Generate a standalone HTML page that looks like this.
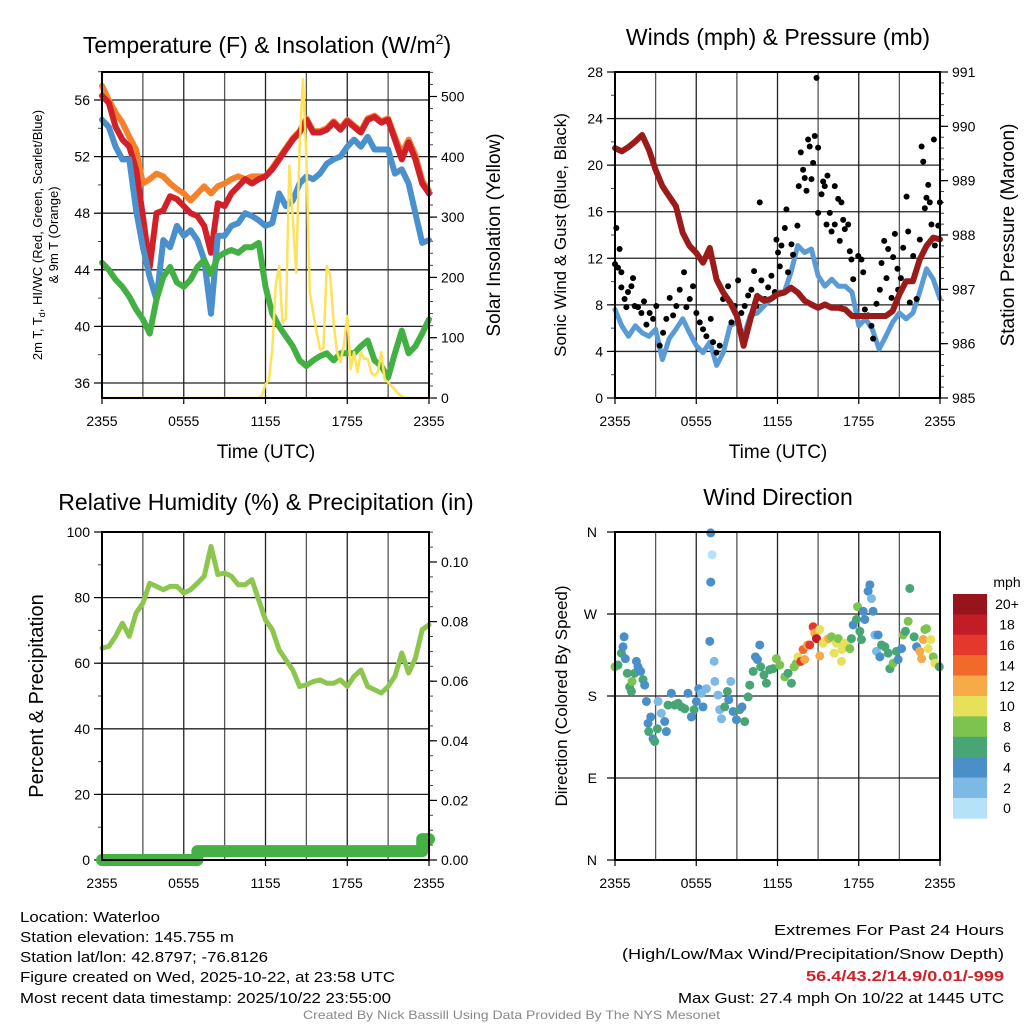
<!DOCTYPE html>
<html><head><meta charset="utf-8"><style>
html,body{margin:0;padding:0;background:#fff;}
svg{display:block;font-family:"Liberation Sans",Arial,sans-serif;}
</style></head><body>
<svg id="fig" width="1024" height="1024" viewBox="0 0 1024 1024" xmlns="http://www.w3.org/2000/svg">
<g id="texts">
<text x="267" y="53" font-size="23" text-anchor="middle">Temperature (F) &amp; Insolation (W/m<tspan dy="-9" font-size="14">2</tspan><tspan dy="9">)</tspan></text>
<text x="778" y="45" font-size="23" text-anchor="middle">Winds (mph) &amp; Pressure (mb)</text>
<text x="266" y="510" font-size="23" text-anchor="middle">Relative Humidity (%) &amp; Precipitation (in)</text>
<text x="778" y="505" font-size="23" text-anchor="middle">Wind Direction</text>
<text x="266" y="458" font-size="19" text-anchor="middle">Time (UTC)</text>
<text x="778" y="458" font-size="19" text-anchor="middle">Time (UTC)</text>
<text transform="translate(42,235) rotate(-90)" font-size="13" text-anchor="middle">2m T, T<tspan dy="3" font-size="9">d</tspan><tspan dy="-3">, HI/WC (Red, Green, Scarlet/Blue)</tspan></text>
<text transform="translate(58,235) rotate(-90)" font-size="13" text-anchor="middle">&amp; 9m T (Orange)</text>
<text transform="translate(500,235) rotate(-90)" font-size="19" text-anchor="middle">Solar Insolation (Yellow)</text>
<text transform="translate(566,235) rotate(-90)" font-size="17" text-anchor="middle">Sonic Wind &amp; Gust (Blue, Black)</text>
<text transform="translate(1014,235) rotate(-90)" font-size="19" text-anchor="middle">Station Pressure (Maroon)</text>
<text transform="translate(43,696) rotate(-90)" font-size="20" text-anchor="middle">Percent &amp; Precipitation</text>
<text transform="translate(567,696) rotate(-90)" font-size="17" text-anchor="middle">Direction (Colored By Speed)</text>
<g font-size="15">
<text x="20" y="922" textLength="140" lengthAdjust="spacingAndGlyphs">Location: Waterloo</text>
<text x="20" y="942" textLength="214" lengthAdjust="spacingAndGlyphs">Station elevation: 145.755 m</text>
<text x="20" y="962" textLength="248" lengthAdjust="spacingAndGlyphs">Station lat/lon: 42.8797; -76.8126</text>
<text x="20" y="982" textLength="375" lengthAdjust="spacingAndGlyphs">Figure created on Wed, 2025-10-22, at 23:58 UTC</text>
<text x="20" y="1003" textLength="371" lengthAdjust="spacingAndGlyphs">Most recent data timestamp: 2025/10/22 23:55:00</text>
</g>
<g font-size="15">
<text x="774" y="935" textLength="230" lengthAdjust="spacingAndGlyphs">Extremes For Past 24 Hours</text>
<text x="622" y="959" textLength="382" lengthAdjust="spacingAndGlyphs">(High/Low/Max Wind/Precipitation/Snow Depth)</text>
<text x="806" y="981" textLength="198" lengthAdjust="spacingAndGlyphs" font-weight="bold" fill="#d0202a">56.4/43.2/14.9/0.01/-999</text>
<text x="678" y="1003" textLength="326" lengthAdjust="spacingAndGlyphs">Max Gust: 27.4 mph On 10/22 at 1445 UTC</text>
</g>
<text x="303" y="1019" textLength="417" lengthAdjust="spacingAndGlyphs" font-size="12" fill="#888">Created By Nick Bassill Using Data Provided By The NYS Mesonet</text>
</g>
</svg>
<script>
// ---------- data ----------
const timeTickLabels = ["2355","0555","1155","1755","2355"];
const tempTickLabels = [36,40,44,48,52,56];
const solarTickLabels = [0,100,200,300,400,500];
const windTickLabels = [0,4,8,12,16,20,24,28];
const pressTickLabels = [985,986,987,988,989,990,991];
const rhTickLabels = [0,20,40,60,80,100];
const precipTickLabels = [0.00,0.02,0.04,0.06,0.08,0.10];
const dirTickLabels = ["N","E","S","W","N"];
const cbLabels = ["0","2","4","6","8","10","12","14","16","18","20+"];
const cbColors = ["#b5e2f7","#7cb9e5","#4a8fc8","#48a676","#7dc34f","#e6e05a","#f7aa48","#f26a2b","#e3382b","#c21d27","#98141c"];

const tempRed = [56.3,55.8,54.1,53.2,52.7,51.1,47.8,44.2,48.0,48.2,49.2,49.0,48.5,48.0,47.8,47.1,45.2,48.7,48.5,49.4,49.9,50.4,50.1,50.4,50.6,51.1,51.8,52.5,53.2,53.7,54.6,53.7,53.7,53.9,54.4,53.9,54.5,54.1,53.7,54.6,54.8,54.4,54.6,53.2,51.8,53.0,51.8,50.1,49.4];
const tempOrange = [57.0,56.0,55.1,54.4,53.4,52.5,50.1,50.4,50.8,50.6,50.1,49.7,49.4,48.9,49.4,49.9,49.4,49.9,50.1,50.4,50.6,50.4,50.6,50.6,50.6,51.2,51.9,52.6,53.3,53.8,54.7,53.8,53.8,54.0,54.5,54.0,54.6,54.2,53.8,54.7,54.9,54.5,54.7,53.4,52.2,53.2,52.1,50.3,49.6];
const tempBlue = [54.6,54.1,52.7,51.8,51.8,48.2,45.6,43.5,41.9,46.1,45.6,47.1,46.4,46.8,46.1,44.7,40.9,46.4,46.4,47.1,47.3,48.0,47.8,47.5,47.1,47.3,49.4,48.5,48.9,50.1,50.6,50.4,50.8,51.5,51.8,52.0,52.7,53.2,52.7,53.4,52.5,52.5,52.5,50.8,51.1,50.1,48.0,45.9,46.1];
const tempGreen = [44.5,44.0,43.3,42.8,42.1,41.2,40.5,39.5,41.9,43.5,44.2,43.1,42.8,43.3,44.2,44.7,43.7,44.9,45.2,45.4,45.2,45.6,45.6,45.9,42.8,40.9,40.0,39.3,38.6,37.6,37.2,37.6,37.9,38.1,37.6,38.1,38.1,38.1,38.6,39.0,37.6,37.2,36.4,38.1,39.7,38.1,38.6,39.5,40.5];
const solar = [0,0,0,0,0,0,0,0,0,0,0,0,0,0,0,0,0,0,0,0,0,0,0,0,0,0,0,0,0,0,0,0,0,0,0,0,0,0,0,0,0,0,0,0,0,0,0,
4,23,29,81,186,219,125,131,385,297,208,418,529,396,175,142,109,81,81,219,203,125,76,59,87,136,48,76,43,76,65,65,43,37,43,76,31,26,20,14,7,3,
0,0,0,0,0,0,0,0];
const windSpeed = [7.6,6.2,5.3,6.2,5.6,5.3,5.9,3.3,5.1,5.9,6.8,5.6,4.5,3.9,4.8,2.8,3.9,6.2,6.5,5.3,7.1,7.3,7.9,8.5,9.1,9.1,10.8,13.1,12.5,12.8,10.5,9.6,10.2,9.6,9.6,9.1,6.2,6.8,5.9,4.2,5.3,6.5,7.3,6.8,7.3,9.1,11.1,10.2,8.5];
const pressure = [989.60,989.54,989.62,989.72,989.84,989.57,989.20,988.90,988.71,988.53,988.04,987.80,987.67,987.49,987.76,987.18,986.94,986.76,986.51,985.96,986.45,986.88,986.79,986.82,986.91,986.94,987.03,986.94,986.79,986.72,986.66,986.72,986.66,986.66,986.63,986.51,986.51,986.51,986.51,986.51,986.51,986.60,986.91,987.15,987.15,987.55,987.80,987.95,987.92];
const gustHours = [0.10,0.0,0.22,0.34,0.47,0.47,0.71,0.84,0.96,1.21,1.33,1.45,1.70,1.95,2.14,2.32,2.56,2.81,3.05,3.30,3.55,3.79,4.04,4.29,4.53,4.78,5.10,5.27,5.52,5.76,6.01,6.26,6.50,6.75,7.07,7.24,7.49,7.73,7.98,8.35,8.60,8.84,9.09,9.33,9.58,9.83,10.07,10.27,10.44,10.69,10.81,11.06,11.31,11.55,11.80,11.92,12.04,12.17,12.29,12.54,12.66,12.78,13.03,13.15,13.47,13.57,13.72,13.89,14.01,14.14,14.26,14.38,14.51,14.63,14.75,14.88,15.0,15.0,15.25,15.37,15.49,15.69,15.62,15.86,15.99,16.23,16.23,16.48,16.60,16.72,16.85,16.97,17.22,17.34,17.46,17.59,17.96,18.20,18.33,18.45,18.69,18.94,19.06,19.31,19.56,19.68,19.88,20.05,20.17,20.42,20.54,20.67,20.86,20.91,21.11,21.28,21.53,21.65,21.77,22.02,22.27,22.51,22.64,22.76,22.88,23.0,23.13,23.25,23.37,23.55,23.62,23.87,23.99];
const gustVals = [14.6,11.5,11.2,12.8,10.8,9.5,8.5,7.8,9.1,9.6,10.3,7.9,7.8,7.3,8.3,6.3,7.3,6.8,7.9,4.5,5.6,6.8,8.6,7.1,7.9,9.3,10.8,7.8,8.5,9.6,7.3,6.5,5.9,5.3,6.8,4.8,3.9,4.5,8.5,9.6,6.5,7.9,10.1,7.3,7.9,8.8,9.3,10.9,7.9,16.8,10.1,8.5,9.5,10.5,9.1,13.6,12.5,11.3,13.1,14.6,16.2,10.8,13.2,12.3,14.8,18.2,21.1,19.6,18.9,17.8,22.2,21.6,18.8,20.2,22.5,27.5,21.5,15.9,17.5,18.6,18.2,19.1,14.9,15.9,14.3,18.2,14.9,17.1,13.5,16.8,15.3,14.5,14.9,12.6,11.9,10.2,12.2,11.9,10.8,7.6,7.1,6.2,5.1,8.1,9.3,11.6,13.5,10.3,12.8,8.6,12.1,14.1,11.1,9.3,10.3,12.9,17.3,14.3,8.2,12.2,8.5,13.6,21.6,20.3,16.3,17.2,18.3,16.8,14.9,22.2,13.1,14.8,16.8];
const rh = [64.6,65.1,68.2,72.2,68.2,75.3,78.3,84.4,83.4,82.4,83.4,83.4,81.4,82.4,84.4,86.5,95.6,87.0,87.5,86.5,83.9,83.9,85.5,79.3,73.2,70.2,64.1,61.0,57.9,52.9,53.4,54.4,54.9,53.9,53.9,54.9,52.9,56.0,57.9,52.9,51.9,50.9,52.9,56.0,63.1,57.0,61.5,70.2,71.7];
const precip = [0,0,0,0,0,0,0,0,0,0,0,0,0,0,0,0.003,0.003,0.003,0.003,0.003,0.003,0.003,0.003,0.003,0.003,0.003,0.003,0.003,0.003,0.003,0.003,0.003,0.003,0.003,0.003,0.003,0.003,0.003,0.003,0.003,0.003,0.003,0.003,0.003,0.003,0.003,0.003,0.003,0.007];
const dirHours = [0.0,0.22,0.47,0.67,0.59,0.76,0.91,1.08,1.21,1.26,1.45,1.58,1.70,1.90,2.07,2.19,2.32,2.44,2.64,2.49,2.81,2.93,3.18,3.13,3.42,3.67,3.79,3.92,4.16,4.41,4.66,4.90,5.15,5.39,5.64,5.84,6.01,6.18,6.38,6.50,6.75,7.0,7.07,7.17,7.07,7.32,7.37,7.61,7.73,7.86,8.10,8.30,8.40,8.55,8.72,8.97,9.21,9.38,9.58,9.83,9.95,10.2,10.37,10.52,10.69,10.76,11.0,11.18,11.43,11.67,11.92,12.17,12.54,12.78,13.03,13.23,13.4,13.52,13.72,13.89,14.01,14.21,14.38,14.63,14.75,14.88,15.12,15.12,15.37,15.62,15.79,15.99,16.18,16.35,16.48,16.72,16.77,16.97,17.17,17.34,17.46,17.59,17.83,17.91,18.08,18.2,18.33,18.45,18.69,18.82,18.94,19.06,19.19,19.31,19.43,19.56,19.68,19.93,20.17,20.3,20.54,20.79,20.91,21.16,21.28,21.45,21.65,21.77,22.09,22.27,22.51,22.64,22.76,22.88,23.0,23.13,23.32,23.5,23.62,23.87,23.95];
const dirDegs = [212,214,227,245,234,221,205,190,185,196,205,218,212,207,198,192,174,150,157,141,133,130,174,144,161,152,141,170,183,170,172,168,166,183,157,165,174,188,183,168,188,240,359,335,305,218,196,181,165,155,168,185,176,196,163,154,165,168,152,179,192,207,223,220,236,212,203,194,209,210,221,214,201,205,194,212,216,223,218,231,220,236,236,256,249,243,253,224,238,242,243,245,227,238,243,218,231,238,236,232,243,258,264,278,251,242,273,264,295,302,287,273,247,229,247,223,236,234,227,210,216,229,220,232,247,251,262,298,245,234,229,221,242,253,254,232,242,223,216,214,212];
const dirSpeeds = [8,6,6,4,4,4,6,6,6,8,6,4,4,4,6,4,4,4,4,6,4,6,2,6,2,4,4,6,4,6,6,6,6,4,4,6,4,4,2,4,2,4,4,0,4,2,2,2,2,2,6,6,4,2,4,4,6,4,6,6,6,6,4,4,4,6,6,6,6,6,8,8,8,6,6,8,8,10,16,14,12,12,16,16,12,18,10,12,10,10,12,8,10,10,8,10,10,10,10,8,6,4,6,8,6,6,4,4,4,4,2,4,2,2,4,4,6,6,6,6,8,6,4,4,8,6,8,6,6,4,12,12,12,8,8,10,10,8,10,10,6];

// ---------- drawing ----------
const NS = "http://www.w3.org/2000/svg";
const svg = document.getElementById("fig");
function mk(tag, attrs, parent){
  const e = document.createElementNS(NS, tag);
  for (const k in attrs) e.setAttribute(k, attrs[k]);
  (parent||svg).appendChild(e);
  return e;
}
const P = {
  tl:{x0:102,x1:429,y0:72,y1:398},
  tr:{x0:615,x1:940,y0:72,y1:398},
  bl:{x0:102,x1:429,y0:532,y1:860},
  br:{x0:615,x1:940,y0:532,y1:860}
};
function xs(p){ return h => p.x0 + (h/24)*(p.x1-p.x0); }
function lin(d0,d1,r0,r1){ return v => r0 + (v-d0)/(d1-d0)*(r1-r0); }

const yTemp = lin(56,36,100,383);
const ySolar = lin(0,500,398,96.5);
const yWind = lin(0,28,398,72);
const yPress = lin(985,991,398,72);
const yRH = lin(0,100,860,532);
const yPrecip = lin(0,0.10,860,562);
const yDir = lin(0,360,860,532);

function frame(p, name, hLines){
  const g = mk("g",{});
  
  
  const X = xs(p);
  for (let h=3; h<24; h+=3){
    const l = mk("line",{x1:X(h),x2:X(h),y1:p.y0,y2:p.y1,stroke:(h%6==0)?"#222":"#555","stroke-width":1.3},g);
    
    
  }
  hLines.forEach(y=>{
    const l = mk("line",{x1:p.x0,x2:p.x1,y1:y,y2:y,stroke:"#222","stroke-width":1.3},g);
    
    
  });
  timeTickLabels.forEach((t,i)=>{
    const x = X(i*6);
    const tx = mk("text",{x:x,y:p.y1+28,"font-size":14,"text-anchor":"middle"},g);
    tx.textContent = t;
    
    
    mk("line",{x1:x,x2:x,y1:p.y1,y2:p.y1+6,stroke:"#000","stroke-width":1.2},g);
  });
  return g;
}
function border(p,g){
  const r = mk("rect",{x:p.x0,y:p.y0,width:p.x1-p.x0,height:p.y1-p.y0,fill:"none",stroke:"#000","stroke-width":2},g);
  
  
}
function axisTicks(g, side, p, scale, major, minorStep, lo, hi, fmt, name){
  const x = side==="left" ? p.x0 : p.x1;
  const dir = side==="left" ? -1 : 1;
  for (let v=lo; v<=hi+1e-9; v+=minorStep){
    const y = scale(v);
    if (y < p.y0-0.5 || y > p.y1+0.5) continue;
    mk("line",{x1:x,x2:x+dir*4,y1:y,y2:y,stroke:"#444","stroke-width":1},g);
  }
  major.forEach(v=>{
    const y = scale(v);
    mk("line",{x1:x,x2:x+dir*8,y1:y,y2:y,stroke:"#000","stroke-width":1.2},g);
    const t = mk("text",{x:x+dir*12,y:y+5,"font-size":14,"text-anchor":side==="left"?"end":"start"},g);
    t.textContent = fmt(v);
    
    
  });
}
function polyline(g, pts, color, w, name){
  const l = mk("polyline",{points:pts.map(p=>p[0].toFixed(1)+","+p[1].toFixed(1)).join(" "),fill:"none",stroke:color,"stroke-width":w,"stroke-linejoin":"round","stroke-linecap":"round"},g);
  
  
  return l;
}

{
  const p = P.tl, X = xs(p);
  const g = frame(p, "temperature-chart", tempTickLabels.map(yTemp));
  axisTicks(g,"left",p,yTemp,tempTickLabels,2,34,58,v=>v,"temp-tick-label");
  axisTicks(g,"right",p,ySolar,solarTickLabels,20,0,540,v=>v,"solar-tick-label");
  const half = (arr,ys)=>arr.map((v,i)=>[X(i*0.5),ys(v)]);
  polyline(g, half(tempOrange,yTemp), "#f5822b", 6, "series-9m-temperature");
  polyline(g, half(tempRed,yTemp), "#d22028", 6, "series-2m-temperature");
  polyline(g, half(tempBlue,yTemp), "#4a90cc", 6, "series-dewpoint");
  polyline(g, half(tempGreen,yTemp), "#43b043", 6, "series-heat-index-wind-chill");
  polyline(g, solar.map((v,i)=>[X(i*0.25),ySolar(v)]), "#fde25a", 2.5, "series-solar-insolation");
  border(p,g);
}
{
  const p = P.tr, X = xs(p);
  const g = frame(p, "wind-pressure-chart", windTickLabels.map(yWind));
  axisTicks(g,"left",p,yWind,windTickLabels,2,0,28,v=>v,"wind-tick-label");
  axisTicks(g,"right",p,yPress,pressTickLabels,0.2,985,991,v=>v,"pressure-tick-label");
  polyline(g, windSpeed.map((v,i)=>[X(i*0.5),yWind(v)]), "#5a9bd5", 5, "series-sonic-wind");
  gustHours.forEach((h,i)=>{
    const c = mk("circle",{cx:X(Math.min(h,24)),cy:yWind(gustVals[i]),r:3,fill:"#000"},g);
    
    
  });
  polyline(g, pressure.map((v,i)=>[X(i*0.5),yPress(v)]), "#9b1b1b", 6, "series-station-pressure");
  border(p,g);
}
{
  const p = P.bl, X = xs(p);
  const g = frame(p, "humidity-precip-chart", rhTickLabels.map(yRH));
  axisTicks(g,"left",p,yRH,rhTickLabels,10,0,100,v=>v,"rh-tick-label");
  axisTicks(g,"right",p,yPrecip,precipTickLabels,0.005,0,0.11,v=>v.toFixed(2),"precip-tick-label");
  polyline(g, rh.map((v,i)=>[X(i*0.5),yRH(v)]), "#8dc64e", 5, "series-relative-humidity");
  const pp = [];
  precip.forEach((v,i)=>{ if(i>0 && v!==precip[i-1]) pp.push([X(i*0.5-0.5),yPrecip(v)]); pp.push([X(i*0.5),yPrecip(v)]); });
  polyline(g, pp, "#45b045", 12, "series-precipitation");
  border(p,g);
}
{
  const p = P.br, X = xs(p);
  const g = frame(p, "wind-direction-chart", [0,90,180,270,360].map(yDir));
  dirTickLabels.forEach((lab,i)=>{
    const y = yDir(i*90);
    mk("line",{x1:p.x0,x2:p.x0-8,y1:y,y2:y,stroke:"#000","stroke-width":1.2},g);
    const t = mk("text",{x:p.x0-18,y:y+5,"font-size":14,"text-anchor":"end"},g);
    t.textContent = lab;
    
    
  });
  dirHours.forEach((h,i)=>{
    const idx = Math.min(10, Math.floor(dirSpeeds[i]/2));
    const c = mk("circle",{cx:X(h),cy:yDir(dirDegs[i]),r:4.5,fill:cbColors[idx]},g);
    
    
  });
  border(p,g);
  const cb = mk("g",{});
  
  
  const top = 594, bh = 20.4;
  const mt = mk("text",{x:1007,y:587,"font-size":14,"text-anchor":"middle"},cb);
  mt.textContent = "mph";
  
  
  for (let k=0;k<11;k++){
    const j = 10-k;
    const r = mk("rect",{x:953,y:top+k*bh,width:34,height:bh+0.3,fill:cbColors[j]},cb);
    
    
    const t = mk("text",{x:1007,y:top+k*bh+bh/2+5,"font-size":14,"text-anchor":"middle"},cb);
    t.textContent = cbLabels[j];
    
    
  }
}
</script>
</body></html>
